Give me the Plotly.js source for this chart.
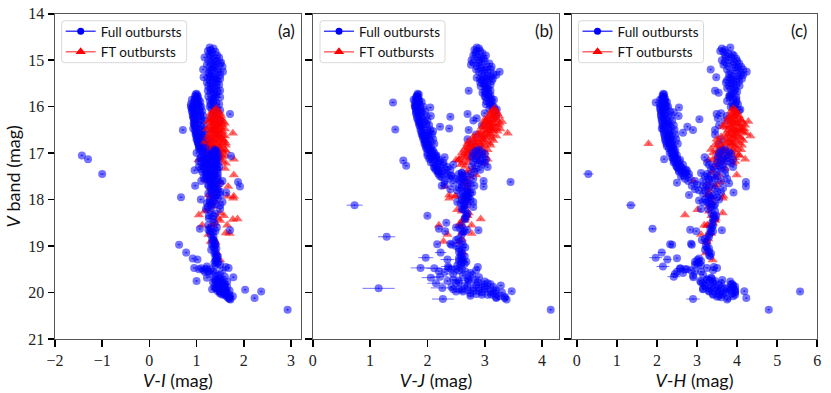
<!DOCTYPE html>
<html>
<head>
<meta charset="utf-8">
<script src="https://cdn.plot.ly/plotly-3.0.1.min.js"></script>
<style>html,body{margin:0;padding:0;background:#fff}</style>
</head>
<body>
<div id="cmd_plot"></div>
<script>
// full outbursts, drawn below the FT points (bright part of the track)
var upperV = [
14.73,14.75,14.78,14.8,14.82,14.85,14.88,14.9,14.94,14.97,
15.0,15.02,15.05,15.07,15.1,15.12,15.14,15.16,15.2,15.2,
15.22,15.25,15.27,15.3,15.32,15.35,15.37,15.38,15.4,15.4,
15.43,15.45,15.48,15.5,15.53,15.56,15.6,15.62,15.66,15.68,
15.7,15.74,15.78,15.8,15.84,15.88,15.92,15.96,16.0,16.06,
15.72,15.74,15.76,15.78,15.8,15.82,15.84,15.86,15.88,15.9,
15.91,15.93,15.96,15.98,16.0,16.02,16.04,16.07,16.1,16.12,
16.14,16.16,16.18,16.2,16.22,16.24,16.27,16.3,16.33,16.36,
16.38,16.4,16.43,16.45,16.47,16.49,16.5,16.53,16.56,16.58,
16.6,16.62,16.65,16.67,16.7,16.72,16.75,16.78,16.8,16.83,
16.08,16.14,16.2,16.25,16.3,16.4,16.5,16.6,16.7,16.8,
15.85,15.95,16.0,16.05,16.1,16.15,16.2,16.25,16.3,16.35,
16.4,16.45,16.5,16.55,16.6,16.65,16.7,16.75,16.8,16.85,
15.9,16.0,16.1,16.2,16.3,16.4,16.5,16.6,16.7,16.8,
14.9,15.0,15.1,15.2,15.3,15.4,15.5,15.6,15.7,15.8,15.9,16.0,
14.95,15.05,15.15,15.25,15.35,15.45,15.55,15.65,15.75,15.85,15.95,16.05];
var upperVI = [
1.28,1.36,1.3,1.24,1.4,1.33,1.27,1.44,1.17,1.38,
1.25,1.42,1.3,1.5,1.22,1.36,1.55,1.28,1.14,1.45,
1.3,1.56,1.25,1.4,1.5,1.3,1.15,1.24,1.42,1.5,
1.28,1.45,1.22,1.34,1.48,1.25,1.4,1.3,1.24,1.45,
1.3,1.42,1.25,1.5,1.35,1.28,1.42,1.3,1.38,1.44,
1.0,0.98,1.02,0.97,1.03,1.0,0.96,1.05,0.98,1.02,
0.95,1.0,1.03,0.93,1.07,0.99,0.92,1.04,0.97,1.08,
1.0,1.71,0.95,1.08,1.02,0.93,1.1,0.98,1.05,0.94,
1.02,0.96,1.1,1.0,0.93,1.06,0.71,1.12,1.0,1.05,
0.98,1.1,1.05,1.13,1.0,1.08,1.18,1.03,1.1,1.15,
1.5,1.35,1.42,1.3,1.5,1.4,1.35,1.45,1.3,1.25,
0.9,0.88,0.88,0.9,0.9,0.92,0.92,0.95,0.95,0.95,
0.96,0.98,0.97,0.98,1.0,1.0,1.02,1.02,1.04,1.05,
1.08,1.1,1.12,1.14,1.15,1.16,1.18,1.18,1.2,1.22,
1.3,1.35,1.4,1.33,1.28,1.36,1.3,1.34,1.36,1.4,1.36,1.28,
1.48,1.52,1.38,1.46,1.36,1.4,1.42,1.5,1.38,1.32,1.48,1.32];
var upperVJ = [
2.86,2.9,2.82,2.92,2.85,2.96,2.84,3.02,2.88,2.98,
2.77,3.0,2.8,3.08,2.76,2.86,3.12,2.92,2.85,3.1,
2.98,3.26,3.05,3.15,3.2,3.1,2.98,2.86,3.02,3.14,
2.95,3.05,2.92,3.0,3.1,2.93,3.04,3.06,2.72,3.0,
3.02,3.06,3.0,3.08,3.12,3.03,3.08,3.1,3.14,3.21,
1.83,1.85,1.82,1.81,1.84,1.8,1.83,1.86,1.79,1.85,
1.4,1.84,1.8,1.87,1.79,2.05,1.83,1.88,1.82,1.9,
1.88,2.7,1.85,2.06,2.4,1.9,1.92,1.86,1.95,1.87,
1.98,1.9,2.22,1.92,2.38,1.44,2.0,2.1,1.95,2.02,
1.92,2.0,1.95,2.03,1.97,1.96,2.05,2.0,1.98,2.02,
3.18,3.0,3.2,2.86,2.8,2.95,2.72,2.85,2.7,2.78,
1.76,1.78,1.78,1.8,1.8,1.8,1.82,1.82,1.84,1.85,
1.86,1.88,1.88,1.9,1.9,1.92,1.93,1.95,1.95,1.97,
1.9,1.93,1.96,1.98,2.0,2.03,2.05,2.08,2.1,2.12,
2.8,2.9,2.95,3.0,2.95,2.92,2.98,3.02,2.96,3.02,3.12,3.16,
2.94,2.9,3.04,2.9,3.05,3.12,3.0,3.1,3.1,3.16,3.02,3.08];
var upperVH = [
3.83,3.62,3.7,3.58,3.66,3.78,3.88,3.92,3.72,3.98,
3.62,4.0,3.7,4.05,3.66,3.78,4.1,3.96,3.34,4.15,
3.95,4.24,3.85,4.1,4.15,3.9,3.48,3.8,4.0,4.12,
3.75,4.05,3.72,3.85,3.98,3.8,3.94,3.85,3.45,4.0,
3.54,3.86,3.8,3.98,3.9,3.75,3.88,3.95,3.84,4.08,
2.16,2.18,2.14,2.17,2.15,2.2,2.12,2.19,2.16,2.21,
1.97,2.16,2.2,2.14,2.24,2.55,2.18,2.22,2.15,2.42,
2.22,3.49,2.2,2.54,2.25,2.18,3.06,2.26,2.2,2.28,
2.3,2.24,2.76,2.34,2.12,2.28,2.9,2.32,2.65,2.3,
2.3,2.34,2.28,2.36,2.31,2.33,2.38,2.3,2.36,2.4,
4.05,3.6,3.74,3.52,3.7,3.55,3.45,3.45,3.6,3.55,
2.08,2.08,2.08,2.08,2.1,2.1,2.1,2.12,2.12,2.14,
2.14,2.16,2.16,2.18,2.18,2.2,2.2,2.22,2.24,2.25,
2.25,2.28,2.32,2.36,2.38,2.42,2.44,2.46,2.48,2.52,
3.7,3.8,3.9,3.75,3.8,3.85,3.9,3.75,3.9,3.82,3.98,3.9,
3.85,3.92,4.02,4.05,4.02,3.9,4.06,3.95,3.82,3.98,4.02,3.95];

// FT outbursts
var ftV = [
16.04,16.08,16.1,16.12,16.15,16.17,16.2,16.2,16.22,16.25,
16.27,16.28,16.3,16.32,16.33,16.35,16.36,16.38,16.4,16.4,
16.42,16.44,16.46,16.47,16.48,16.5,16.52,16.53,16.55,16.57,
16.58,16.6,16.62,16.63,16.65,16.66,16.68,16.7,16.72,16.73,
16.75,16.77,16.78,16.8,16.8,16.82,16.83,16.85,16.86,16.88,
16.9,16.92,16.93,16.95,16.96,16.98,17.0,17.0,17.02,17.04,
17.05,17.08,17.1,17.13,17.13,17.15,17.18,17.2,17.22,17.25,
17.29,17.33,17.38,17.42,17.47,17.47,17.52,17.6,17.62,17.65,
17.68,17.72,17.75,17.8,17.88,17.9,17.93,17.93,17.95,17.97,
18.04,18.07,18.15,18.22,18.25,18.29,18.33,18.35,18.4,18.42,
18.43,18.45,18.51,18.55,18.55,18.55,18.56,18.72,18.73,18.75,
18.85,18.9,18.92,19.15,19.3,
16.15,16.2,16.25,16.28,16.3,16.33,16.36,16.38,16.4,16.43,
16.45,16.48,16.5,16.52,16.55,16.58,16.6,16.62,16.65,16.68,
16.7,16.72,16.75,16.78,16.8,16.83,16.85,16.88,16.9,16.93,
16.95,16.98,17.0,17.03,17.05,17.08,17.1,17.13,17.16,17.2];
var ftVI = [
1.42,1.38,1.46,1.34,1.5,1.4,1.3,1.52,1.42,1.35,
1.28,1.48,1.4,1.56,1.24,1.36,1.6,1.46,1.3,1.52,
1.38,1.26,1.5,1.42,1.6,1.32,1.46,1.55,1.4,1.77,
1.28,1.48,1.36,1.6,1.24,1.42,1.52,1.3,1.45,1.58,
1.22,1.38,1.55,1.14,1.42,1.3,1.62,1.48,1.26,1.36,
1.5,1.24,1.6,1.4,1.3,1.55,1.2,1.45,1.35,1.52,
1.62,1.3,1.5,1.79,1.2,1.04,1.55,1.25,1.62,1.18,
1.3,1.6,1.35,1.25,1.79,1.4,1.3,1.22,1.5,1.35,
1.45,1.67,1.3,1.4,1.38,1.25,1.79,1.66,1.3,1.78,
1.4,1.3,1.35,1.25,1.17,1.5,1.05,1.58,1.45,1.87,
1.77,1.5,1.4,1.12,1.65,1.35,1.3,1.62,1.7,1.25,
1.36,1.3,1.4,1.43,1.5,
1.3,1.45,1.52,1.36,1.3,1.45,1.35,1.55,1.42,1.5,
1.35,1.22,1.42,1.3,1.52,1.42,1.3,1.55,1.42,1.3,
1.55,1.36,1.45,1.62,1.3,1.52,1.36,1.42,1.28,1.52,
1.62,1.35,1.48,1.4,1.28,1.55,1.38,1.48,1.3,1.42];
var ftVJ = [
3.17,3.14,3.2,3.1,3.22,3.16,3.08,3.25,3.12,3.05,
3.0,3.2,3.12,3.3,3.02,3.08,3.26,3.18,2.98,3.24,
3.05,2.95,3.2,3.1,3.27,2.98,3.12,3.22,3.02,3.4,
2.88,3.1,2.95,3.2,2.8,3.0,3.12,2.82,2.98,3.15,
2.72,2.9,3.08,2.7,2.92,2.75,3.1,2.95,2.68,2.8,
2.95,2.65,3.05,2.82,2.68,3.0,2.6,2.85,2.7,2.9,
2.98,2.6,2.85,3.05,2.55,2.5,2.9,2.62,3.0,2.58,
2.66,2.8,2.72,2.68,2.6,2.85,2.75,2.7,2.65,2.63,
2.7,2.31,2.68,2.72,2.7,2.38,2.48,2.5,2.66,2.38,
2.62,2.69,2.66,2.52,2.6,2.72,2.68,2.7,2.66,2.93,
2.62,2.65,2.57,2.6,2.77,2.2,2.55,2.6,2.77,2.35,
2.6,2.28,2.55,2.62,2.6,
3.12,3.15,3.2,3.15,3.05,3.0,3.1,3.15,3.08,3.12,
3.02,3.1,3.15,3.05,2.92,3.1,3.0,2.9,3.05,2.95,
2.9,2.8,3.0,2.85,2.82,3.0,2.85,2.72,2.78,2.9,
2.72,2.9,2.72,2.8,2.65,2.78,2.68,2.72,2.55,2.7];
var ftVH = [
3.9,3.95,3.85,4.0,3.88,3.98,3.82,4.05,3.92,3.78,
3.8,4.1,3.95,4.28,3.76,3.9,4.15,4.05,3.66,4.2,
3.85,3.66,4.12,3.9,4.18,3.78,3.98,4.1,3.88,4.22,
3.72,4.0,3.82,4.33,3.6,3.9,4.1,3.49,3.85,4.15,
3.55,3.75,4.05,1.79,3.85,3.45,4.12,3.95,3.5,3.65,
4.0,3.35,4.1,3.75,3.5,3.95,3.4,3.85,3.6,4.05,
4.05,3.5,3.95,4.2,3.4,3.29,3.95,3.55,3.9,3.45,
3.5,3.7,3.4,3.35,3.99,3.55,3.45,2.91,3.6,3.3,
3.5,3.45,3.25,3.3,3.3,3.25,3.66,3.35,3.37,3.64,
3.37,3.35,3.3,3.01,3.3,3.64,2.7,3.36,3.47,3.42,
3.44,3.45,3.4,3.18,3.27,3.35,3.25,3.3,3.35,3.1,
3.28,3.22,3.25,3.22,3.39,
3.95,3.9,4.0,3.88,4.1,3.85,4.0,3.95,3.82,4.05,
3.75,3.95,4.05,3.85,4.15,3.95,3.78,3.92,4.05,3.72,
3.95,3.78,3.95,3.85,3.7,3.9,3.6,3.8,3.65,3.9,
3.55,3.7,3.65,3.8,3.55,3.75,3.6,3.7,3.5,3.65];

// full outbursts, drawn over the FT points (faint part of the track)
var lowerV = [
16.85,16.88,16.9,16.92,16.95,16.98,17.0,17.03,17.05,17.06,
17.08,17.1,17.12,17.13,17.16,17.18,17.2,17.22,17.27,17.28,
17.3,17.32,17.35,17.37,17.38,17.4,17.42,17.44,17.48,
16.92,16.95,16.98,17.0,17.02,17.05,17.08,17.1,17.12,17.14,
17.16,17.18,17.2,17.22,17.25,17.28,17.3,17.33,17.36,17.4,
17.43,17.5,17.52,17.55,17.58,17.6,17.62,17.64,17.66,17.68,
17.7,17.72,17.74,17.76,17.78,17.8,17.83,17.85,17.87,17.9,
17.92,17.95,17.97,18.0,18.02,18.05,18.08,18.1,18.14,
18.16,18.2,18.25,18.3,18.35,18.35,18.4,18.42,18.5,18.55,
18.6,18.62,18.65,18.66,18.68,18.68,18.7,18.75,
18.85,18.87,18.9,18.95,18.96,18.97,18.97,19.0,19.03,19.05,
19.08,19.12,19.16,19.2,19.22,19.26,19.27,
19.3,19.32,19.34,19.36,19.38,19.4,19.42,19.45,
19.47,19.49,19.5,19.52,19.52,19.54,19.55,
19.56,19.58,19.62,19.64,19.67,19.7,19.72,
19.73,19.75,19.76,19.78,19.8,19.82,19.84,19.85,
19.86,19.88,19.9,19.92,19.93,19.94,19.95,19.96,
19.97,19.98,19.98,20.0,20.02,20.05,20.07,20.08,20.09,20.1,
20.12,20.12,20.15,20.37,
17.09,17.25,17.2,17.3,17.35,17.45,17.5,17.55,17.6,17.7,
16.9,16.95,17.0,17.05,17.1,17.15,17.2,17.25,17.3,17.35,17.4,17.45,17.5,17.55,17.6,
17.45,17.5,17.55,17.6,17.65,17.7,17.75,17.8,17.85,17.9,17.95,18.0,18.05,18.1,18.2,
19.72,19.75,19.78,19.8,19.82,19.85,19.87,19.88,19.9,19.92,
19.93,19.95,19.96,19.97,19.98,20.0,20.02,20.03,20.05,20.05];
var lowerVI = [
1.06,1.12,1.2,1.08,1.39,1.14,1.22,1.3,-1.43,1.73,
1.1,1.35,1.18,-1.3,1.42,1.05,1.28,1.4,1.15,1.35,
1.25,1.44,1.1,0.96,1.35,1.2,1.45,1.3,1.38,
1.38,1.42,1.36,1.44,1.32,1.4,1.46,1.34,1.42,1.38,
1.4,1.32,1.45,1.36,1.42,1.3,1.48,1.38,1.44,1.34,
1.3,1.38,1.15,1.44,1.28,1.55,1.88,1.35,1.42,1.25,
0.97,1.92,1.4,1.3,1.45,1.33,1.5,1.63,1.25,1.42,
1.35,0.67,1.45,1.09,1.36,1.28,1.22,1.4,1.32,
1.24,1.5,1.3,1.4,1.36,1.26,1.26,1.35,1.38,1.25,
1.43,1.3,1.25,1.71,1.28,1.4,1.35,1.3,
1.33,1.36,1.38,1.32,1.4,0.63,1.4,1.35,1.38,1.42,
1.31,1.4,1.38,1.42,1.45,1.44,0.92,
1.42,1.4,1.46,1.38,1.44,1.5,1.4,1.62,
1.68,1.2,1.3,1.15,1.55,1.25,1.35,
1.18,1.4,1.5,1.45,1.78,1.5,1.38,
1.42,1.0,1.65,1.45,1.5,1.6,1.48,1.55,
1.42,1.5,1.4,1.55,1.33,2.03,1.62,1.5,
1.55,2.37,1.6,1.5,1.6,1.65,1.62,1.77,1.7,1.66,
2.23,1.68,1.72,2.93,
1.25,1.2,1.18,1.15,1.25,1.2,1.32,1.22,1.28,1.35,
1.05,1.1,1.0,1.15,1.08,1.2,1.1,1.25,1.05,1.3,1.12,1.22,1.35,1.18,1.1,
1.35,1.45,1.3,1.4,1.5,1.25,1.38,1.45,1.32,1.5,1.4,1.28,1.55,1.32,1.2,
1.4,1.5,1.35,1.55,1.45,1.6,1.38,1.65,1.5,1.42,
1.6,1.5,1.7,1.45,1.55,1.62,1.5,1.58,1.7,1.55];
var lowerVJ = [
2.02,2.06,2.0,2.04,2.1,2.05,2.12,2.08,2.0,2.15,
2.08,2.15,2.03,2.12,1.58,2.2,2.06,2.18,1.63,2.15,
2.22,2.12,2.18,2.15,2.25,2.2,2.6,2.3,2.42,
2.9,2.85,2.95,2.8,3.0,2.88,2.78,2.95,2.85,3.02,
2.92,2.8,3.0,2.88,2.95,2.78,3.05,2.85,2.92,2.82,
2.6,2.42,2.25,2.62,2.55,2.98,3.45,2.7,2.75,2.3,
2.25,2.98,2.6,2.7,2.4,2.52,2.66,2.75,2.62,2.7,
2.68,2.65,2.7,2.6,2.66,2.52,2.58,2.7,2.64,
2.8,2.62,2.66,2.7,2.0,2.68,2.65,2.66,2.33,2.6,
2.5,2.57,2.69,2.89,2.31,2.65,2.62,2.6,
2.54,2.5,2.6,2.4,2.17,2.42,2.62,2.5,2.66,2.55,
2.6,2.55,2.6,2.58,2.65,2.55,2.6,
2.62,2.55,2.68,2.6,2.65,2.58,2.52,2.88,
2.37,2.6,2.5,2.55,2.85,2.2,2.66,
2.3,2.75,2.78,2.62,2.9,2.7,2.72,
2.83,2.35,3.0,2.55,3.05,2.95,2.85,3.28,
2.7,3.15,2.9,3.0,2.45,2.6,3.2,2.8,
3.47,3.1,2.5,2.95,3.15,3.05,2.75,3.25,3.35,3.2,
3.35,3.2,3.38,4.15,
2.3,2.45,2.28,2.35,2.4,2.55,2.62,2.5,2.65,2.6,
1.98,2.08,2.0,2.16,2.05,2.22,2.1,2.28,2.12,2.32,2.18,2.35,2.22,2.38,2.3,
2.75,2.68,2.8,2.58,2.45,2.82,2.55,2.7,2.78,2.58,2.72,2.75,2.8,2.65,2.6,
2.45,2.72,2.88,2.5,3.1,2.65,3.0,2.42,2.8,3.05,
2.55,2.7,2.9,3.18,2.62,3.3,2.75,2.85,3.12,2.95];
var lowerVH = [
2.36,2.4,2.34,2.42,2.38,2.44,2.36,2.42,2.4,2.45,
2.45,2.4,2.5,2.18,2.42,2.55,2.46,2.52,2.48,2.58,
2.6,2.52,2.66,2.55,2.75,2.62,2.72,2.7,2.66,
3.7,3.6,3.8,3.55,3.85,3.7,3.52,3.78,3.65,3.9,
3.6,3.75,3.5,3.85,3.65,3.55,3.9,3.6,3.7,3.5,
3.1,3.35,2.8,3.45,3.3,3.6,4.22,2.5,3.4,3.0,
2.87,4.22,3.3,3.45,2.95,3.2,3.5,3.91,3.15,3.3,
3.4,3.3,3.35,3.2,3.05,3.15,3.3,3.36,3.42,
3.35,3.28,3.45,3.36,3.42,3.48,3.45,3.4,3.38,3.4,
3.37,3.33,2.83,3.62,2.98,3.4,3.35,3.3,
3.2,3.12,3.25,2.85,2.33,2.38,2.87,3.22,3.25,3.3,
3.2,3.3,3.35,3.3,3.33,2.5,3.05,
3.01,3.1,2.95,3.05,3.0,2.95,3.1,3.42,
3.5,2.58,2.7,2.85,3.4,2.95,3.1,
2.5,2.65,3.15,2.9,2.91,3.37,3.25,
3.63,3.08,3.83,3.4,3.15,3.88,3.55,3.9,
3.2,3.9,3.6,3.75,3.15,3.95,3.85,3.5,
4.18,5.57,3.3,3.95,3.65,3.4,3.54,3.9,3.5,3.6,
4.23,3.77,3.75,4.79,
3.19,3.3,3.25,3.4,3.35,3.25,3.2,3.28,3.15,3.24,
2.3,2.46,2.32,2.5,2.38,2.58,2.42,2.65,2.5,2.72,2.55,2.8,2.6,2.7,2.78,
3.7,3.5,3.75,2.95,3.8,3.15,3.65,3.05,3.6,2.8,3.5,3.55,3.25,3.45,3.1,
3.25,3.45,3.1,3.6,3.85,3.2,3.95,3.35,3.7,3.15,
3.5,3.82,3.3,3.95,3.58,3.72,3.88,3.4,3.95,3.62];

// points with wide error bars in colour
var wideV = [17.45,18.12,18.63,18.8,19.14,19.25,19.29,19.44,19.47,19.48,19.5,19.6,19.66,19.68,19.74,19.8,19.9,19.91,20.14];
var wideVI = [-1.0,1.5,1.07,1.36,0.78,1.4,1.02,1.22,0.95,1.1,1.05,1.28,1.6,1.22,1.55,1.48,1.58,1.45,1.7];
var wideVJ = [2.19,0.73,2.2,1.29,2.23,1.97,2.35,2.36,1.88,2.12,2.42,2.45,2.22,2.06,2.54,2.15,2.26,1.15,2.27];
var wideVH = [0.29,1.35,1.89,3.3,2.12,1.97,2.26,2.15,3.25,2.58,2.75,2.45,2.42,3.35,3.3,3.4,3.45,3.3,2.9];
var wideErrVI = [0.05,0.03,0.03,0.03,0.03,0.03,0.03,0.03,0.03,0.03,0.03,0.03,0.03,0.03,0.03,0.03,0.03,0.03,0.03];
var wideErrVJ = [0.05,0.14,0.05,0.15,0.1,0.13,0.12,0.12,0.17,0.14,0.13,0.13,0.15,0.16,0.12,0.15,0.2,0.28,0.19];
var wideErrVH = [0.13,0.12,0.1,0.05,0.1,0.16,0.1,0.16,0.05,0.12,0.1,0.1,0.16,0.05,0.05,0.05,0.05,0.05,0.17];

var panelLabels = ['(a)', '(b)', '(c)'];
var xTitles = ['<i>V</i>-<i>I</i> (mag)', '<i>V</i>-<i>J</i> (mag)', '<i>V</i>-<i>H</i> (mag)'];
var xRanges = [[-2, 3.21], [0, 4.3], [-0.125, 6]];
var xDomains = [[55, 300.8], [312.7, 559.3], [571.7, 817.3]];
var legendX = [61.7, 320, 578.5];
var labelX = [286, 544, 799];
var yDomain = [1 - 339 / 393, 1 - 13.7 / 393];

var BLUE = 'rgba(0,0,255,0.55)';
var RED = 'rgba(255,0,0,0.6)';
var SANS = 'Lato, sans-serif';
var SERIF = 'Liberation Serif, serif';

var upperX = [upperVI, upperVJ, upperVH];
var lowerX = [lowerVI, lowerVJ, lowerVH];
var ftX = [ftVI, ftVJ, ftVH];
var wideX = [wideVI, wideVJ, wideVH];
var wideErr = [wideErrVI, wideErrVJ, wideErrVH];

var data = [];
var layout = {
    width: 831,
    height: 393,
    margin: {l: 0, r: 0, t: 0, b: 0},
    paper_bgcolor: '#fff',
    plot_bgcolor: '#fff',
    font: {family: SANS, color: '#111'},
    annotations: [],
    shapes: []
};

function fullTrace(x, y, axisId, errX) {
    return {
        x: x, y: y, xaxis: 'x' + axisId, yaxis: 'y' + axisId,
        type: 'scatter', mode: 'markers', showlegend: false, hoverinfo: 'skip',
        marker: {symbol: 'circle', size: 8, color: BLUE, line: {width: 0}},
        error_x: errX,
        error_y: {type: 'constant', value: 0.02, color: BLUE, thickness: 1, width: 0}
    };
}

// rounded legend frame, plotly legends only have square corners
function legendFrame(left) {
    var r = 3, right = left + 125, top = 20.7, bottom = 62.7;
    function px(v) { return (v / 831).toFixed(5); }
    function py(v) { return (1 - v / 393).toFixed(5); }
    return 'M' + px(left + r) + ',' + py(top) +
        'L' + px(right - r) + ',' + py(top) +
        'Q' + px(right) + ',' + py(top) + ' ' + px(right) + ',' + py(top + r) +
        'L' + px(right) + ',' + py(bottom - r) +
        'Q' + px(right) + ',' + py(bottom) + ' ' + px(right - r) + ',' + py(bottom) +
        'L' + px(left + r) + ',' + py(bottom) +
        'Q' + px(left) + ',' + py(bottom) + ' ' + px(left) + ',' + py(bottom - r) +
        'L' + px(left) + ',' + py(top + r) +
        'Q' + px(left) + ',' + py(top) + ' ' + px(left + r) + ',' + py(top) + 'Z';
}

for (var i = 0; i < 3; i++) {
    var id = i === 0 ? '' : String(i + 1);
    var legendId = 'legend' + id;
    var smallErr = {type: 'constant', value: 0.03, color: BLUE, thickness: 1, width: 0};

    data.push(fullTrace(upperX[i], upperV, id, smallErr));
    data.push({
        x: ftX[i], y: ftV, xaxis: 'x' + id, yaxis: 'y' + id,
        type: 'scatter', mode: 'markers', showlegend: false, hoverinfo: 'skip',
        marker: {symbol: 'triangle-up', size: 9, color: RED, line: {width: 0}},
        error_y: {type: 'constant', value: 0.02, color: RED, thickness: 1, width: 0}
    });
    data.push(fullTrace(lowerX[i], lowerV, id, smallErr));
    data.push(fullTrace(wideX[i], wideV, id, {type: 'data', array: wideErr[i], color: BLUE, thickness: 1, width: 0}));

    // empty traces, only so the legend shows a line through the marker
    data.push({
        x: [null], y: [null], xaxis: 'x' + id, yaxis: 'y' + id,
        type: 'scatter', mode: 'lines+markers', name: 'Full outbursts', legend: legendId,
        line: {color: 'rgba(0,0,255,0.75)', width: 1.5},
        marker: {symbol: 'circle', size: 7, color: '#0000ff'}
    });
    data.push({
        x: [null], y: [null], xaxis: 'x' + id, yaxis: 'y' + id,
        type: 'scatter', mode: 'lines+markers', name: 'FT outbursts', legend: legendId,
        line: {color: 'rgba(255,0,0,0.6)', width: 1.5},
        marker: {symbol: 'triangle-up', size: 9, color: '#ff0000'}
    });

    layout['xaxis' + id] = {
        domain: [xDomains[i][0] / 831, xDomains[i][1] / 831],
        range: xRanges[i],
        anchor: 'y' + id,
        dtick: 1,
        ticks: 'outside', ticklen: 6.5, tickwidth: 1.6, tickcolor: '#000',
        showline: true, mirror: true, linecolor: '#555', linewidth: 1,
        showgrid: false, zeroline: false,
        tickfont: {family: SERIF, size: 16, color: '#222'},
        title: {text: xTitles[i], font: {family: SANS, size: 18, color: '#111'}, standoff: 2}
    };
    layout['yaxis' + id] = {
        domain: yDomain,
        range: [21, 14],
        anchor: 'x' + id,
        dtick: 1,
        ticks: 'outside', ticklen: 6.5, tickwidth: 1.6, tickcolor: '#000',
        showline: true, mirror: true, linecolor: '#555', linewidth: 1,
        showgrid: false, zeroline: false,
        showticklabels: i === 0,
        tickfont: {family: SERIF, size: 16, color: '#222'}
    };
    layout[legendId] = {
        x: (legendX[i] - 1) / 831, y: 1 - 16 / 393, xanchor: 'left', yanchor: 'top',
        bgcolor: 'rgba(0,0,0,0)', borderwidth: 0,
        font: {family: SANS, size: 13.5, color: '#111'},
        tracegroupgap: 0
    };
    layout.shapes.push({
        type: 'path', xref: 'paper', yref: 'paper', layer: 'above',
        path: legendFrame(legendX[i]),
        fillcolor: 'rgba(255,255,255,0.8)',
        line: {color: '#d8d8d8', width: 1}
    });
    layout.annotations.push({
        xref: 'paper', yref: 'paper', x: labelX[i] / 831, y: 1 - 31 / 393,
        xanchor: 'center', yanchor: 'middle', showarrow: false,
        text: panelLabels[i], font: {family: SANS, size: 17, color: '#111'}
    });
}

layout.yaxis.title = {text: '<i>V</i> band (mag)', font: {family: SANS, size: 18, color: '#111'}, standoff: 2};

Plotly.newPlot('cmd_plot', data, layout, {displayModeBar: false, staticPlot: true});
</script>
</body>
</html>
